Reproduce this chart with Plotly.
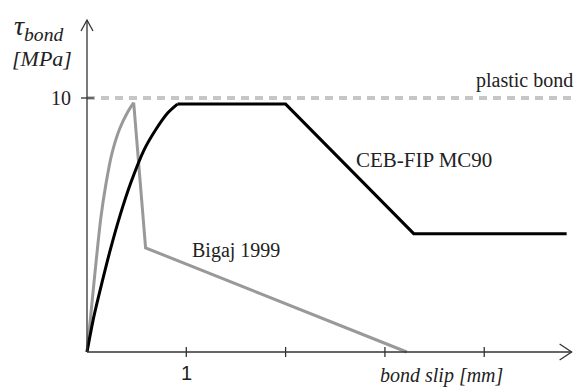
import plotly.graph_objects as go

# --- data ---
slip_ceb = [0, 0.07, 0.15, 0.235, 0.33, 0.44, 0.575, 0.69, 0.81, 0.91, 2.0, 3.29, 4.83]
tau_ceb = [0, 1.41, 2.72, 4.03, 5.34, 6.65, 7.96, 8.74, 9.4, 9.76, 9.76, 4.66, 4.66]
ceb_peak_index = 9

slip_bigaj = [0, 0.037, 0.07, 0.104, 0.14, 0.19, 0.25, 0.33, 0.41, 0.47, 0.59, 3.22]
tau_bigaj = [0, 1.41, 2.72, 4.03, 5.3, 6.6, 7.8, 8.8, 9.45, 9.82, 4.1, 0]
bigaj_peak_index = 9

slip_plastic = [0, 4.90]
tau_plastic = [10, 10]

x_ticks = [1, 2, 3, 4]
x_tick_labels = ["1", "", "", ""]
y_ticks = [10]
y_tick_labels = ["10"]

x_axis_end = 4.88
y_axis_end = 13.07

serif = "Liberation Serif, Times New Roman, serif"
sans = "Liberation Sans, Arial, sans-serif"
txt = "#222222"

fig = go.Figure()
fig.add_trace(go.Scatter(x=slip_plastic, y=tau_plastic, mode="lines",
                         line=dict(color="#c6c6c6", width=4, dash="8px,6px"),
                         hoverinfo="skip", showlegend=False))
# Bigaj 1999: smooth ascending branch, then straight segments
fig.add_trace(go.Scatter(x=slip_bigaj[:bigaj_peak_index + 1], y=tau_bigaj[:bigaj_peak_index + 1],
                         mode="lines", line=dict(color="#999999", width=3, shape="spline", smoothing=0.8),
                         showlegend=False))
fig.add_trace(go.Scatter(x=slip_bigaj[bigaj_peak_index:], y=tau_bigaj[bigaj_peak_index:],
                         mode="lines", line=dict(color="#999999", width=3), showlegend=False))
# CEB-FIP MC90
fig.add_trace(go.Scatter(x=slip_ceb[:ceb_peak_index + 1], y=tau_ceb[:ceb_peak_index + 1],
                         mode="lines", line=dict(color="#000000", width=3, shape="spline", smoothing=0.8),
                         showlegend=False))
fig.add_trace(go.Scatter(x=slip_ceb[ceb_peak_index:], y=tau_ceb[ceb_peak_index:],
                         mode="lines", line=dict(color="#000000", width=3), showlegend=False))

shapes = []
axc = "#333333"
shapes.append(dict(type="line", xref="x", yref="y", x0=0, y0=0, x1=x_axis_end, y1=0,
                   line=dict(color=axc, width=1.3)))
shapes.append(dict(type="line", xref="x", yref="y", x0=0, y0=0, x1=0, y1=y_axis_end,
                   line=dict(color=axc, width=1.3)))
shapes.append(dict(type="path", xref="x", yref="y", xsizemode="pixel", ysizemode="pixel",
                   xanchor=x_axis_end, yanchor=0, path="M -12,8 L 0,0 L -12,-8",
                   line=dict(color=axc, width=1.3)))
shapes.append(dict(type="path", xref="x", yref="y", xsizemode="pixel", ysizemode="pixel",
                   xanchor=0, yanchor=y_axis_end, path="M -6,-11 L 0,0 L 6,-11",
                   line=dict(color=axc, width=1.3)))
for v in x_ticks:
    shapes.append(dict(type="line", xref="x", yref="y", ysizemode="pixel", yanchor=0,
                       x0=v, x1=v, y0=-5, y1=5, line=dict(color=axc, width=1.3)))
for v in y_ticks:
    shapes.append(dict(type="line", xref="x", yref="y", xsizemode="pixel", xanchor=0,
                       y0=v, y1=v, x0=-6, x1=7, line=dict(color=axc, width=1.3)))

annotations = []
for v, t in zip(x_ticks, x_tick_labels):
    if t:
        annotations.append(dict(x=v, y=0, xref="x", yref="y", text=t, showarrow=False,
                                yanchor="top", yshift=-8, font=dict(family=sans, size=20, color=txt)))
for v, t in zip(y_ticks, y_tick_labels):
    annotations.append(dict(x=0, y=v, xref="x", yref="y", text=t, showarrow=False,
                            xanchor="right", xshift=-14, font=dict(family=serif, size=20, color=txt)))

annotations += [
    dict(x=4.406, y=10.68, xref="x", yref="y", text="plastic bond", showarrow=False,
         font=dict(family=serif, size=20, color=txt)),
    dict(x=3.39, y=7.56, xref="x", yref="y", text="CEB-FIP MC90", showarrow=False,
         font=dict(family=serif, size=21, color=txt)),
    dict(x=1.505, y=3.98, xref="x", yref="y", text="Bigaj 1999", showarrow=False,
         font=dict(family=serif, size=20, color=txt)),
    dict(x=4.21, y=0, xref="x", yref="y", text="<i>bond slip [mm]</i>", showarrow=False,
         xanchor="right", yanchor="middle", yshift=-23, font=dict(family=serif, size=20, color=txt)),
    # y-axis title, placed in paper coordinates left of the axis
    dict(x=-0.115, y=1.006, xref="paper", yref="paper", text="<i>τ<sub>bond</sub></i>",
         showarrow=False, xanchor="left", yanchor="top",
         font=dict(family=serif, size=28, color=txt)),
    dict(x=0.0337, y=0.8655, xref="paper", yref="paper", text="<i>[MPa]</i>", showarrow=False,
         xanchor="right", yanchor="middle", xshift=-13,
         font=dict(family=serif, size=22, color=txt)),
]

fig.update_layout(
    width=574, height=387,
    margin=dict(l=70, r=0, t=10, b=20),
    paper_bgcolor="white", plot_bgcolor="white",
    xaxis=dict(range=[-0.1712, 4.904], showgrid=False, zeroline=False, showline=False,
               showticklabels=False, ticks="", fixedrange=True),
    yaxis=dict(range=[-0.5906, 13.465], showgrid=False, zeroline=False, showline=False,
               showticklabels=False, ticks="", fixedrange=True),
    shapes=shapes, annotations=annotations,
)

fig.write_html("out.html", config={"displayModeBar": False},
               post_script="document.body.style.margin='0';")
